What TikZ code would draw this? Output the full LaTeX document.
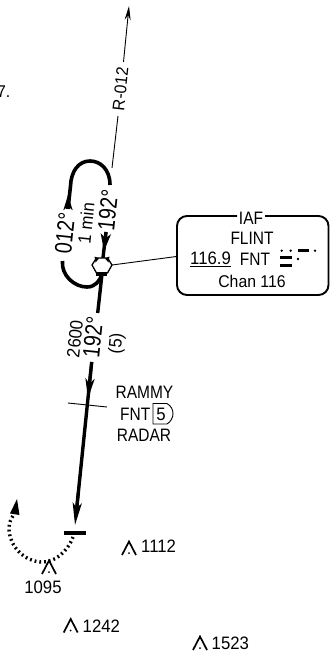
\documentclass[tikz,border=0pt]{standalone}
\usepackage{fontspec}
\setmainfont[FakeStretch=0.93]{Liberation Sans}
\newfontfamily\bigf[FakeStretch=0.82]{Liberation Sans}
\newfontfamily\capf[FakeStretch=0.86]{Liberation Sans}
\usetikzlibrary{arrows.meta,calc}
\tikzset{
  x=1pt,y=-1pt,
  lbl/.style={inner sep=0pt,font=\fontsize{#1}{#1}\selectfont},
  biglbl/.style={inner sep=0pt,font=\bigf\fontsize{24}{24}\selectfont,rotate=84},
  caplbl/.style={inner sep=0pt,font=\capf\fontsize{18}{18}\selectfont},
  thinline/.style={line width=0.9pt},
  heavy/.style={line width=3.4pt},
  tipthin/.style={-{Stealth[length=14pt,width=6pt]}},
  spike/.style={line width=1.7pt,line join=miter},
}
\newcommand{\obstacle}[2]{% apex name, coordinates
  \coordinate (#1) at #2;
  \draw[spike] ($(#1)+(-7,13.5)$) -- (#1) -- ($(#1)+(7,13.5)$);
  \fill ($(#1)+(0,11.5)$) circle (1pt);
}
\begin{document}
\begin{tikzpicture}
\useasboundingbox (0,0) rectangle (330,652);
% stray text
\node[lbl=17,anchor=east] (stray) at (10.5,92) {7.};
% radial
\coordinate (rtip) at (129,6);
\coordinate (rtop) at (123.5,62);
\coordinate (rbot) at (118,116);
\coordinate (rend) at (112,168);
\draw[thinline,tipthin] (rtop) -- (rtip);
\draw[thinline] (rbot) -- (rend);
\node[lbl=17,rotate=84] (rlabel) at (120.5,89) {R-012};
% holding pattern
\coordinate (ha) at (110,185);
\coordinate (hb) at (68,209);
\coordinate (hc) at (68,195);
\draw[line width=3.6pt] (ha) .. controls (110,169) and (100,161) .. (90,161)
   .. controls (78,161) and (71,172) .. (70.5,186) -- (hb);
\draw[-{Stealth[length=15pt,width=9pt,inset=4pt]},line width=3.2pt] (hb) -- (hc);
\coordinate (hd) at (62.5,261);
\draw[line width=3.6pt] (hd) .. controls (61,275) and (74,287) .. (87,287) .. controls (95,287) and (100,281) .. (102,274);
% inbound
\coordinate (ia) at (106,232);
\coordinate (ib) at (102.5,262);
\coordinate (ic) at (104,251);
\draw[heavy] (ia) -- (ib);
\draw[-{Stealth[length=17pt,width=10pt,inset=4pt]},line width=3pt] (ia) -- (ic);
% outbound leg
\coordinate (la) at (102,274);
\coordinate (lb) at (97.7,313);
\coordinate (lc) at (91.7,362);
\coordinate (ld) at (75,525);
\draw[heavy] (la) -- (lb);
\draw[heavy] (lc) -- ($(lc)!0.9!(ld)$);
\draw[-{Stealth[length=20pt,width=9pt,inset=5pt]},line width=3pt] (lc) -- ($(lc)!0.225!(ld)$);
\draw[-{Stealth[length=22pt,width=9pt,inset=5pt]},line width=3pt] ($(lc)!0.8!(ld)$) -- (ld);
% hexagon
\node[draw=none] (fix) at (102,265.5) {};
\draw[line width=1.3pt,fill=white,line join=round] (92,265) -- (96.5,258) -- (107.5,258) -- (112,265) -- (107.5,273) -- (96.5,273) -- cycle;
\fill (94.5,256.5) -- (99,258.5) -- (95.5,262.5) -- cycle;
\fill (109.5,256.5) -- (105,258.5) -- (108.5,262.5) -- cycle;
\fill (96,272) rectangle (107,276);
% radial to box
\coordinate (fixr) at (112,265);
\coordinate (boxl) at (176.5,256.5);
\draw[thinline] (fixr) -- (boxl);
% box
\draw[line width=1.9pt,rounded corners=10pt] (237,216) -- (177,216) -- (177,295) -- (328.5,295) -- (328.5,216) -- (265,216);
\node[caplbl] (iaf) at (251,218) {IAF};
\node[caplbl] (flint) at (252,238) {FLINT};
\node[lbl=18,anchor=west] (freq) at (190,259.5) {\underline{116.9}};
\node[caplbl] (fnt) at (255,259.5) {FNT};
\node[lbl=17] (chan) at (252,281.5) {Chan 116};
% morse
\foreach \px in {281.7,290.7,315}{\fill (\px,250.7) circle (1.3pt);}
\fill (297.5,249.3) rectangle (309,252.2);
\fill (280,256) rectangle (291.7,258.8);
\fill (298,259) circle (1.4pt);
\fill (280,264) rectangle (291.7,267.2);
% labels along legs
\node[biglbl] (deg1) at (65,233) {012°};
\node[lbl=18,rotate=84] (min) at (86,223) {1 min};
\node[biglbl] (deg2) at (108,210) {192°};
\node[lbl=18,rotate=84] (alt) at (75,339) {2600};
\node[biglbl] (deg3) at (93,337) {192°};
\node[lbl=18,rotate=84] (dist) at (117,343.5) {(5)};
% RAMMY
\coordinate (ta) at (68,403);
\coordinate (tb) at (107,407);
\draw[thinline] (ta) -- (tb);
\node[caplbl] (rammy) at (144.5,392) {RAMMY};
\node[caplbl,anchor=west] (fnt2) at (120,414) {FNT};
\node[lbl=18] (five) at (161,414) {5};
\draw[line width=0.9pt] (153,403.5) -- (167,403.5) .. controls (175,408) and (175,419) .. (167,424) -- (153,424) -- cycle;
\node[caplbl] (radar) at (144,435.5) {RADAR};
% fix bar
\coordinate (ba) at (64,533);
\coordinate (bb) at (86,533);
\draw[line width=4pt] (ba) -- (bb);
% dotted turn
\coordinate (da) at (73,537);
\coordinate (dz) at (13.5,515);
\coordinate (dt) at (17,499);
\draw[line width=3.4pt,dash pattern=on 1.8pt off 3pt] (da) .. controls (67,553) and (54,562) .. (43,562)
   .. controls (24,562) and (9,546) .. (9,528) .. controls (9,523) and (11,519) .. (dz);
\fill (dt) -- (19.5,515) -- (10,513.5) -- cycle;
% obstacles
\obstacle{oa}{(49,560.5)}
\node[lbl=18] (t1095) at (43,587) {1095};
\obstacle{ob}{(129,541.5)}
\node[lbl=18,anchor=west] (t1112) at (141,546.5) {1112};
\obstacle{oc}{(70.7,619)}
\node[lbl=18,anchor=west] (t1242) at (82.5,626.5) {1242};
\obstacle{od}{(200,636.5)}
\node[lbl=18,anchor=west] (t1523) at (211.5,643) {1523};
\end{tikzpicture}
\end{document}
